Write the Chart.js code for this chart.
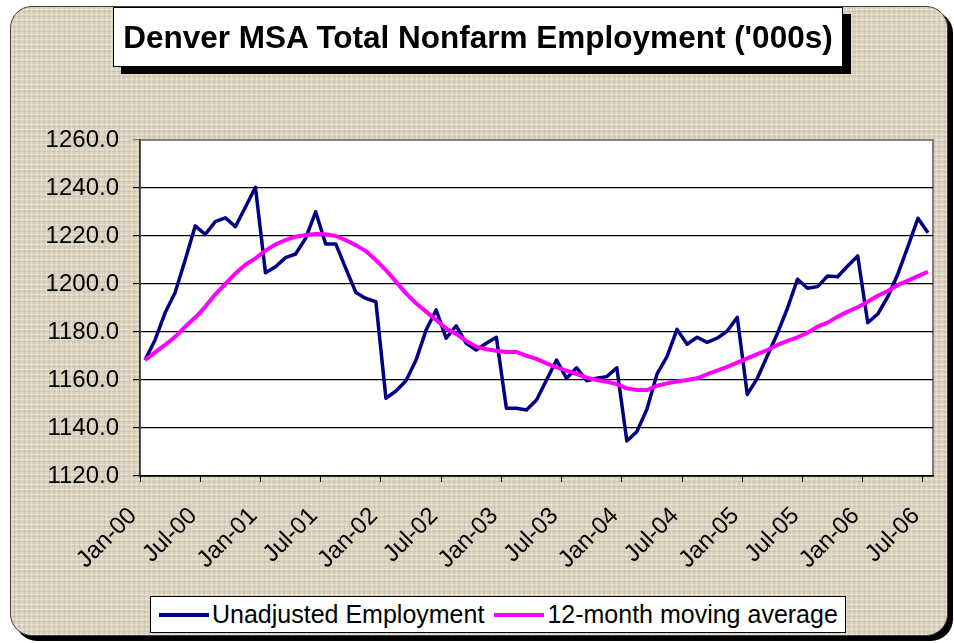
<!DOCTYPE html>
<html>
<head>
<meta charset="utf-8">
<script src="https://cdn.jsdelivr.net/npm/chart.js@4"></script>
<style>
  html, body { margin: 0; padding: 0; background: #fff; }
  body { width: 954px; height: 643px; position: relative; overflow: hidden; font-family: "Liberation Sans", Arial, sans-serif; }
  /* textured frame with hard shadow */
  #frame {
    position: absolute; left: 10px; top: 6px; width: 936px; height: 628px;
    border: 1px solid #404040; border-radius: 22px;
    box-shadow: 5px 5px 0 #000;
    background-color: #dbd2be;
    background-image:
      repeating-linear-gradient(0deg, rgba(255,255,255,0.28) 0 1px, transparent 1px 3px, rgba(120,105,80,0.10) 3px 4px, transparent 4px 5px),
      repeating-linear-gradient(90deg, rgba(255,255,255,0.25) 0 1px, transparent 1px 3px, rgba(120,105,80,0.10) 3px 4px, transparent 4px 5px);
  }
  #chart { position: absolute; left: 0; top: 0; }
  #title {
    position: absolute; left: 113px; top: 7px; width: 728px; height: 58px;
    background: #fff; border: 1px solid #000; box-shadow: 8px 7px 0 #000;
    font-weight: bold; font-size: 31.5px; line-height: 58px; text-align: center; color: #000;
    white-space: nowrap;
  }
  #legend {
    position: absolute; left: 150px; top: 596px; width: 696px; height: 37px;
    background: #fff; border: 1px solid #000;
    display: flex; align-items: center; padding-left: 8px; box-sizing: border-box;
    font-size: 25px; color: #000; white-space: nowrap;
  }
  .item { display: flex; align-items: center; margin-right: 10px; }
  .swatch { width: 50px; height: 4px; margin-right: 3px; }
</style>
</head>
<body>
<div id="frame"></div>
<canvas id="chart" width="954" height="643"></canvas>
<div id="title">Denver MSA Total Nonfarm Employment ('000s)</div>
<div id="legend"></div>
<script>
  // Monthly values, Jan-00 .. Jul-06 ('000s)
  const unadjusted = [
    1168.3, 1176.7, 1188.0, 1196.5, 1210.0, 1224.2, 1220.7, 1226.0, 1227.6, 1223.9, 1232.0, 1240.3,
    1204.7, 1207.2, 1211.0, 1212.5, 1219.0, 1230.1, 1216.7, 1216.7, 1206.5, 1196.5, 1194.0, 1192.6,
    1152.4, 1155.4, 1159.7, 1168.3, 1180.8, 1189.2, 1177.4, 1182.6, 1175.3, 1172.5, 1175.3, 1177.8,
    1148.2, 1148.2, 1147.5, 1151.7, 1160.0, 1168.3, 1160.7, 1165.1, 1159.7, 1160.7, 1161.4, 1165.1,
    1134.6, 1138.5, 1147.8, 1162.4, 1169.7, 1181.1, 1174.9, 1177.8, 1175.7, 1177.4, 1180.4, 1186.1,
    1154.0, 1160.7, 1170.1, 1179.4, 1189.9, 1202.0, 1198.2, 1198.9, 1203.3, 1203.0, 1207.5, 1211.7,
    1183.9, 1187.5, 1194.7, 1204.2, 1215.6, 1227.4, 1221.4
  ];
  const movingAvg = [
    1168.3, 1171.5, 1174.6, 1178.0, 1182.2, 1186.0, 1190.5, 1195.7, 1200.0, 1204.4, 1208.0, 1210.7,
    1213.9, 1216.5, 1218.3, 1219.7, 1220.4, 1220.8, 1220.7, 1220.0, 1218.3, 1216.2, 1213.7, 1210.0,
    1205.8, 1201.0, 1196.1, 1192.0, 1188.5, 1185.0, 1181.5, 1179.2, 1176.3, 1173.9, 1172.8, 1172.2,
    1171.7, 1171.7, 1170.1, 1168.8, 1166.9, 1165.3, 1163.9, 1162.5, 1161.0, 1160.0, 1159.3, 1158.3,
    1156.5, 1155.8, 1155.8, 1157.6, 1158.6, 1159.4, 1160.0, 1160.7, 1162.4, 1163.9, 1165.5, 1167.2,
    1169.0, 1170.8, 1172.5, 1174.6, 1176.3, 1177.8, 1179.7, 1182.2, 1183.9, 1186.4, 1188.5, 1190.3,
    1192.6, 1195.1, 1197.1, 1199.6, 1201.4, 1203.3, 1205.1
  ];
  // one label every 6 months
  const tickLabels = ['Jan-00', 'Jul-00', 'Jan-01', 'Jul-01', 'Jan-02', 'Jul-02', 'Jan-03',
                      'Jul-03', 'Jan-04', 'Jul-04', 'Jan-05', 'Jul-05', 'Jan-06', 'Jul-06'];
  const seriesNames = ['Unadjusted Employment', '12-month moving average'];
  const seriesColors = ['#000080', '#ff00ff'];

  const FONT = '"Liberation Sans", Arial, sans-serif';

  // white plot area with grey frame
  const plotBg = {
    id: 'plotBg',
    beforeDraw(chart) {
      const { ctx, chartArea: a } = chart;
      ctx.save();
      ctx.fillStyle = '#fff';
      ctx.fillRect(a.left, a.top, a.width, a.height);
      ctx.strokeStyle = '#808080';
      ctx.lineWidth = 2;
      ctx.strokeRect(a.left, a.top, a.width, a.height);
      ctx.restore();
    }
  };

  const chart = new Chart(document.getElementById('chart'), {
    type: 'line',
    data: {
      datasets: [
        {
          label: seriesNames[0],
          data: unadjusted.map((v, i) => ({ x: i, y: v })),
          borderColor: seriesColors[0],
          borderWidth: 3.5,
          pointRadius: 0,
          tension: 0,
          borderJoinStyle: 'round',
          order: 1
        },
        {
          label: seriesNames[1],
          data: movingAvg.map((v, i) => ({ x: i, y: v })),
          borderColor: seriesColors[1],
          borderWidth: 4,
          pointRadius: 0,
          tension: 0,
          borderJoinStyle: 'round',
          order: 0
        }
      ]
    },
    options: {
      responsive: false,
      animation: false,
      layout: { padding: { left: 0, right: 21, top: 140, bottom: 0 } },
      scales: {
        x: {
          type: 'linear',
          min: -0.5,
          max: 78.5,
          afterBuildTicks: (scale) => {
            scale.ticks = tickLabels.map((_, k) => ({ value: -0.5 + 6 * k }));
          },
          afterFit: (scale) => {
            // fixed plot box: no extra room asked for the rotated labels
            scale.height = 167;
            scale.paddingLeft = 0;
            scale.paddingRight = 0;
          },
          grid: { drawOnChartArea: false, drawTicks: true, tickLength: 6, color: '#000' },
          border: { color: '#000', width: 1.5 },
          ticks: {
            autoSkip: false,
            minRotation: 45,
            maxRotation: 45,
            padding: 20,
            labelOffset: -7,
            color: '#000',
            font: { family: FONT, size: 24 },
            callback: (v, idx) => tickLabels[idx]
          }
        },
        y: {
          min: 1120,
          max: 1260,
          afterFit: (scale) => { scale.width = 140; },
          grid: {
            tickLength: 7,
            color: (c) => (c.tick && c.tick.value === 1260 ? '#808080' : '#000'),
            lineWidth: 1.2
          },
          border: { color: '#333', width: 1.5 },
          ticks: {
            stepSize: 20,
            padding: 14,
            color: '#000',
            font: { family: FONT, size: 24 },
            callback: (v) => Number(v).toFixed(1)
          }
        }
      },
      plugins: {
        legend: { display: false },
        title: { display: false },
        tooltip: { enabled: false }
      }
    },
    plugins: [plotBg]
  });

  // legend box built from the datasets
  const legendWrap = document.getElementById('legend');
  chart.data.datasets.forEach((ds) => {
    const item = document.createElement('div');
    item.className = 'item';
    item.innerHTML = `<span class="swatch" style="background:${ds.borderColor}"></span>${ds.label}`;
    legendWrap.appendChild(item);
  });
</script>
</body>
</html>
